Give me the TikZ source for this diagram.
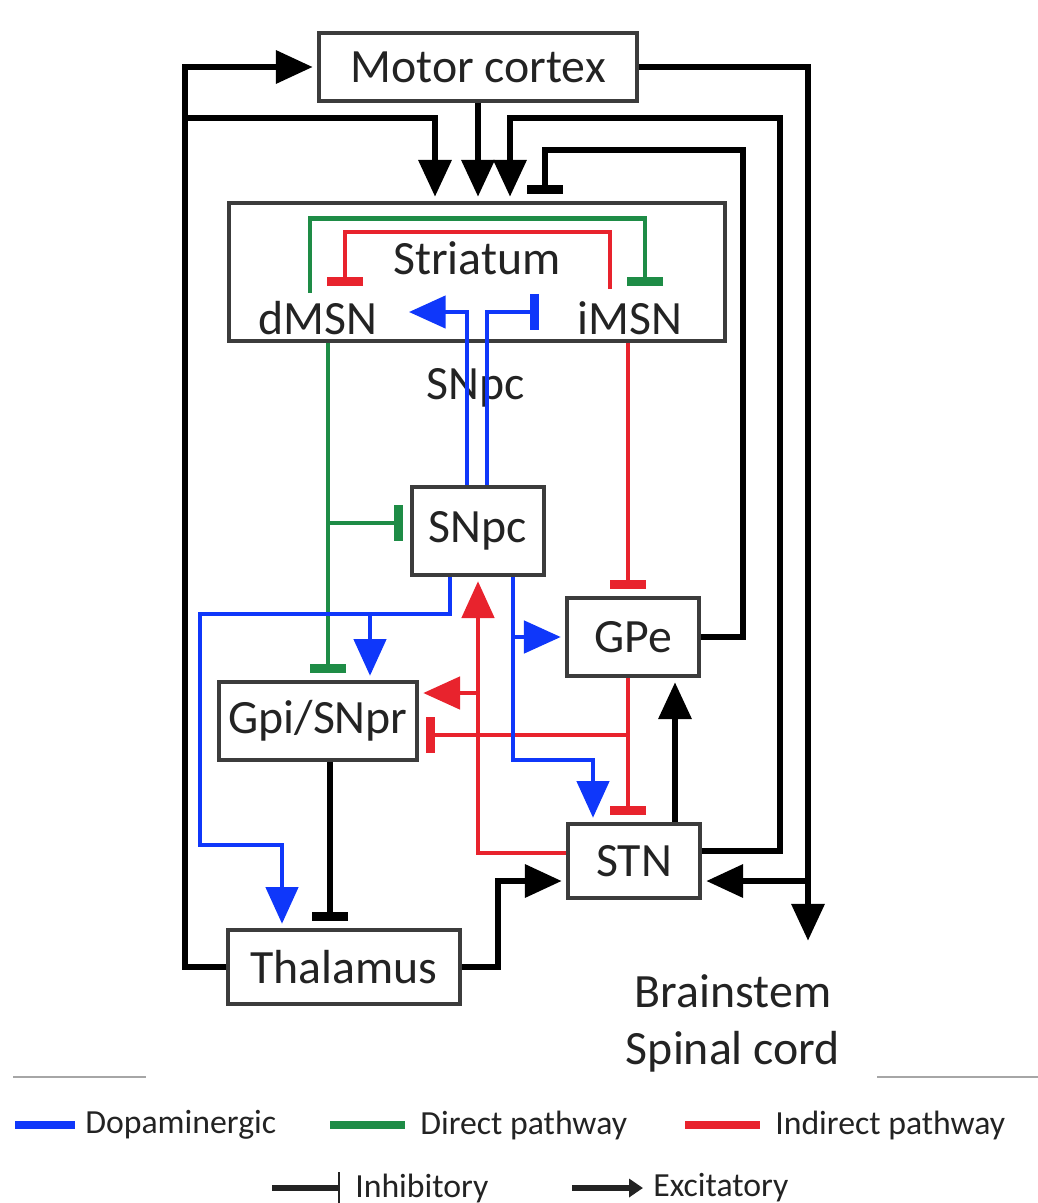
\documentclass[tikz,border=0pt]{standalone}
\usepackage{fontspec}
\setmainfont{Carlito}
\usetikzlibrary{arrows.meta,positioning,calc}
\definecolor{bgBlue}{RGB}{15,55,250}
\definecolor{bgGreen}{RGB}{30,140,70}
\definecolor{bgRed}{RGB}{232,35,45}
\definecolor{boxGray}{RGB}{60,60,60}
\definecolor{inkGray}{RGB}{35,35,35}
\tikzset{
  region/.style={draw=boxGray, line width=2.8pt, inner sep=0pt, text=inkGray, font=\fontsize{34}{40.5}\selectfont},
  lbl/.style={inner sep=0pt, text=inkGray, font=\fontsize{34}{40.5}\selectfont},
  wire/.style={line width=4.5pt},
  tint/.style={line width=3.4pt},
  exc/.style={wire, -{Triangle[length=0.92cm,width=0.8cm]}, shorten >=3pt},
  inh/.style={wire, -{Bar[width=0.9cm,line width=6.5pt]}, shorten >=5pt},
  legendtext/.style={inner sep=0pt, anchor=west, text=inkGray, font=\fontsize{24}{29}\selectfont},
}
\begin{document}
\begin{tikzpicture}[x=0.025cm, y=-0.025cm]
  \useasboundingbox (0,0) rectangle (1038,1203);
  % Regions
  \node[region, minimum width=7.95cm, minimum height=1.7cm] (mc) at (478,67) {Motor cortex};
  \node[region, minimum width=12.4cm, minimum height=3.45cm] (str) at (477,272) {};
  \node[lbl] (strlbl) at (477,258) {Striatum};
  \node[lbl] (dmsn) at (318,318) {dMSN};
  \node[lbl] (imsn) at (630,318) {iMSN};
  \node[lbl] (snpclbl) at (476,388) {SNpc};
  \node[region, minimum width=3.3cm, minimum height=2.2cm] (snpc) at (478,531) {SNpc};
  \node[region, minimum width=3.3cm, minimum height=1.95cm] (gpe) at (633,637) {GPe};
  \node[region, minimum width=4.95cm, minimum height=1.95cm] (gpi) at (318,721) {Gpi/SNpr};
  \node[region, minimum width=3.3cm, minimum height=1.85cm] (stn) at (634,861) {STN};
  \node[region, minimum width=5.8cm, minimum height=1.85cm] (thal) at (344,967) {Thalamus};
  \node[lbl, align=center] (bs) at (733,1023) {Brainstem\\Spinal cord};
  \coordinate (loopL) at (185,67);
  \coordinate (bsIn) at (808,945);

  % Black loops
  \draw[exc] (thal.west) -| (loopL) -- (mc.west);
  \draw[exc] (185,118) -| ($(str.north)+(-42,0)$);
  \draw[exc] (mc.south) -- (mc.south |- str.north);
  \draw[exc] ($(stn.east)+(0,-10)$) -| (780,118) -| ($(str.north)+(33,0)$);
  \draw[inh] (gpe.east) -| (743,150) -| ($(str.north)+(68,0)$);
  \draw[exc] (mc.east) -| (bsIn);
  \draw[exc] ($(stn.east)+(108,20)$) -- ($(stn.east)+(0,20)$);
  \draw[exc] (thal.east) -| ($(stn.west)+(-68,20)$) -- ($(stn.west)+(0,20)$);
  \draw[inh] ($(gpi.south)+(12,0)$) -- ($(thal.north)+(-14,0)$);
  \draw[exc] ($(stn.north)+(41,0)$) -- ($(gpe.south)+(42,0)$);

  % Direct pathway
  \draw[inh, tint, bgGreen] ($(dmsn.north)+(-8,-8)$) |- ($(imsn.north)+(15,-83)$) -- ($(imsn.north)+(15,-8)$);
  \draw[inh, tint, bgGreen] ($(str.south)+(-149,0)$) -- ($(gpi.north)+(10,0)$);
  \draw[inh, tint, bgGreen] (328,523) -- ($(snpc.west)+(0,-8)$);

  % Indirect pathway
  \draw[inh, tint, bgRed] ($(imsn.north)+(-20,-12)$) |- ($(dmsn.north)+(27,-69)$) -- ($(dmsn.north)+(27,-8)$);
  \draw[inh, tint, bgRed] ($(str.south)+(151,0)$) -- ($(gpe.north)+(-5,0)$);
  \draw[inh, tint, bgRed] ($(gpe.south)+(-5,0)$) -- ($(stn.north)+(-6,0)$);
  \draw[inh, tint, bgRed] (628,735) -- ($(gpi.east)+(0,14)$);
  \draw[exc, tint, bgRed] ($(stn.west)+(0,-8)$) -| (snpc.south);
  \draw[exc, tint, bgRed] (478,693) -- ($(gpi.east)+(0,-28)$);

  % Dopaminergic
  \draw[exc, tint, bgBlue] ($(snpc.north)+(-11,0)$) |- ($(dmsn.east)+(27,-6)$);
  \draw[inh, tint, bgBlue] ($(snpc.north)+(9,0)$) |- ($(imsn.west)+(-31,-6)$);
  \draw[exc, tint, bgBlue] ($(snpc.south)+(-28,0)$) |- (200,614) |- (282,845) -- ($(thal.north)+(-62,0)$);
  \draw[exc, tint, bgBlue] (370,614) -- ($(gpi.north)+(52,0)$);
  \draw[exc, tint, bgBlue] ($(snpc.south)+(35,0)$) |- (593,760) -- ($(stn.north)+(-41,0)$);
  \draw[exc, tint, bgBlue] (513,637) -- (gpe.west);

  % Legend
  \draw[gray!70, line width=2pt] (13,1077) -- (146,1077);
  \draw[gray!70, line width=2pt] (877,1077) -- (1038,1077);
  \node[legendtext] (ldop) at (85,1125) {Dopaminergic};
  \node[legendtext] (ldir) at (420,1125) {Direct pathway};
  \node[legendtext] (lind) at (775,1125) {Indirect pathway};
  \node[legendtext] (linh) at (355,1188) {Inhibitory};
  \node[legendtext] (lexc) at (653,1188) {Excitatory};
  \draw[bgBlue, line width=5pt] ($(ldop.west)+(-70,0)$) -- ($(ldop.west)+(-10,0)$);
  \draw[bgGreen, line width=5pt] ($(ldir.west)+(-90,0)$) -- ($(ldir.west)+(-15,0)$);
  \draw[bgRed, line width=5pt] ($(lind.west)+(-90,0)$) -- ($(lind.west)+(-15,0)$);
  \draw[inkGray, line width=4pt, -{Bar[width=0.8cm,line width=1.5pt]}] ($(linh.west)+(-83,0)$) -- ($(linh.west)+(-15,0)$);
  \draw[inkGray, line width=4pt, -{Triangle[length=0.35cm,width=0.45cm]}] ($(lexc.west)+(-81,0)$) -- ($(lexc.west)+(-10,0)$);
\end{tikzpicture}
\end{document}
